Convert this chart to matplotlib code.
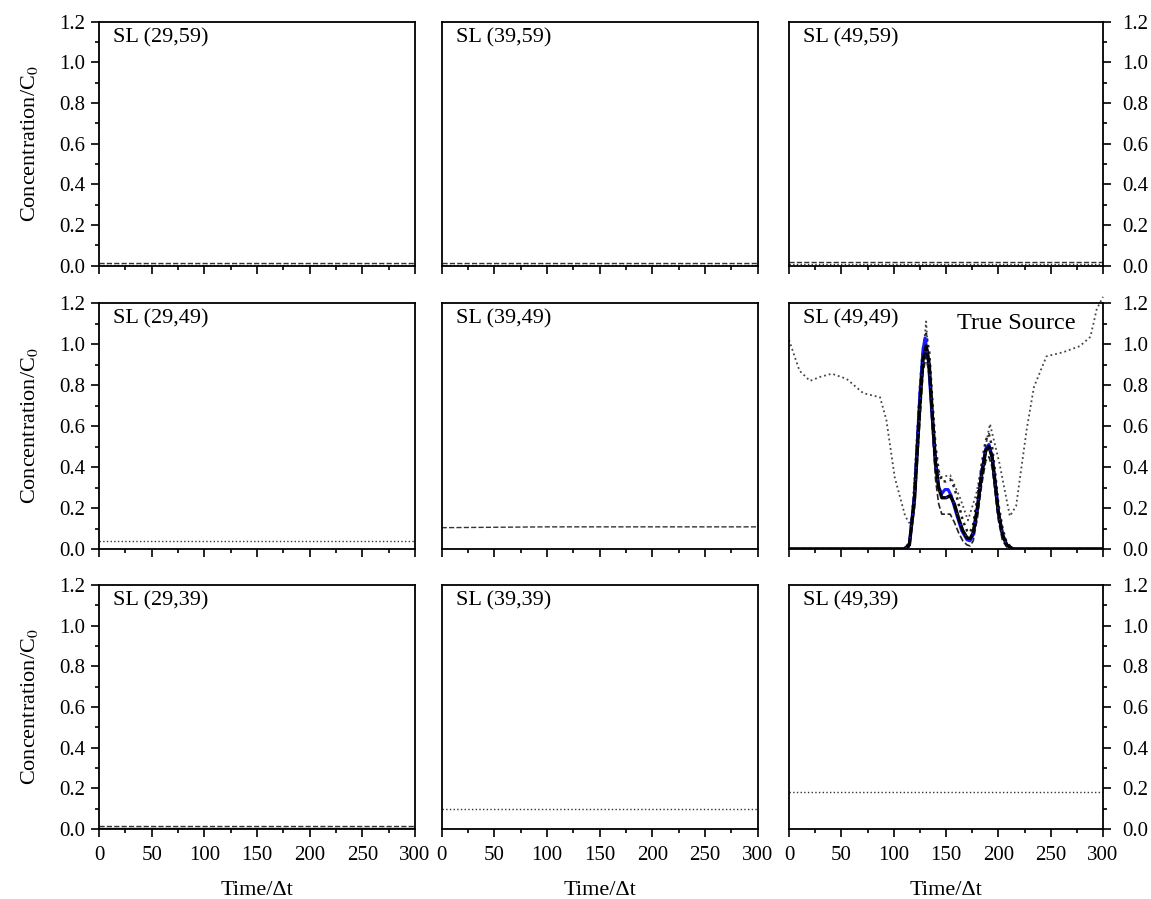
import numpy as np
import matplotlib.pyplot as plt
from matplotlib.ticker import MultipleLocator

plt.rcParams['font.family'] = ['Liberation Serif', 'DejaVu Serif']
plt.rcParams['mathtext.fontset'] = 'stix'

# panel titles, row by row (top to bottom), column by column (left to right)
titles = [["SL (29,59)", "SL (39,59)", "SL (49,59)"],
          ["SL (29,49)", "SL (39,49)", "SL (49,49)"],
          ["SL (29,39)", "SL (39,39)", "SL (49,39)"]]

# flat estimates in the panels far from the source: (values, style)
flat_t = [0, 100, 200, 300]
flat_lines = {
    (0, 0): [([0.012, 0.012, 0.012, 0.012], "--"), ([0.004, 0.004, 0.004, 0.004], ":")],
    (0, 1): [([0.012, 0.012, 0.012, 0.012], "--"), ([0.004, 0.004, 0.004, 0.004], ":")],
    (0, 2): [([0.02, 0.02, 0.02, 0.02], "--"), ([0.006, 0.006, 0.006, 0.006], ":")],
    (1, 0): [([0.037, 0.037, 0.037, 0.037], ":")],
    (1, 1): [([0.104, 0.108, 0.108, 0.108], "--")],
    (2, 0): [([0.015, 0.015, 0.015, 0.015], "--"), ([0.005, 0.005, 0.005, 0.005], "-")],
    (2, 1): [([0.10, 0.10, 0.10, 0.10], ":")],
    (2, 2): [([0.18, 0.18, 0.18, 0.18], ":")],
}

# true source panel (49,49)
t_true = [0, 110, 115, 120, 125, 128, 130, 133, 136, 140, 143, 146, 149, 152, 155,
          160, 165, 170, 173, 176, 180, 184, 188, 191, 194, 197, 200, 204, 208, 214, 300]
c_true = [0, 0, 0.02, 0.27, 0.75, 0.97, 1.03, 0.93, 0.70, 0.42, 0.30, 0.27, 0.29, 0.29, 0.26,
          0.17, 0.09, 0.045, 0.04, 0.07, 0.20, 0.37, 0.49, 0.51, 0.45, 0.32, 0.18, 0.07, 0.02, 0, 0]

t_est = [0, 110, 115, 120, 125, 128, 131, 134, 137, 140, 143, 146, 150, 154, 158,
         162, 166, 170, 173, 176, 180, 184, 188, 191, 194, 197, 200, 204, 208, 214, 300]
c_mean = [0, 0, 0.02, 0.25, 0.70, 0.92, 0.99, 0.90, 0.65, 0.42, 0.30, 0.25, 0.25, 0.26, 0.22,
          0.15, 0.09, 0.055, 0.05, 0.08, 0.20, 0.36, 0.48, 0.50, 0.45, 0.32, 0.18, 0.07, 0.02, 0, 0]
c_low = [0, 0, 0.01, 0.20, 0.62, 0.86, 0.94, 0.84, 0.58, 0.34, 0.22, 0.17, 0.17, 0.17, 0.13,
         0.08, 0.04, 0.02, 0.015, 0.04, 0.15, 0.31, 0.43, 0.45, 0.40, 0.27, 0.14, 0.04, 0.01, 0, 0]
c_high = [0, 0, 0.03, 0.30, 0.78, 0.98, 1.05, 0.96, 0.72, 0.50, 0.38, 0.33, 0.33, 0.34, 0.30,
          0.22, 0.14, 0.09, 0.08, 0.12, 0.25, 0.41, 0.53, 0.56, 0.50, 0.37, 0.22, 0.10, 0.03, 0, 0]

t_wide = [0, 10, 20, 30, 41, 55, 71, 87, 93, 101, 111, 117, 125, 131, 138, 144, 154,
          163, 171, 179, 192, 201, 211, 217, 227, 234, 246, 262, 278, 288, 294, 300]
c_wide = [1.02, 0.87, 0.82, 0.84, 0.855, 0.83, 0.76, 0.74, 0.63, 0.35, 0.16, 0.11, 0.78, 1.11,
          0.53, 0.35, 0.36, 0.255, 0.14, 0.27, 0.61, 0.42, 0.16, 0.21, 0.58, 0.79, 0.94, 0.96,
          0.99, 1.035, 1.17, 1.23]

xticks = [0, 50, 100, 150, 200, 250, 300]
yticks = [0.0, 0.2, 0.4, 0.6, 0.8, 1.0, 1.2]

W, H = 1151, 899
fig = plt.figure(figsize=(W / 100, H / 100), dpi=100)

col_px = [(99, 415), (441.7, 757.7), (789, 1103)]
row_px = [(21.7, 265.7), (303, 549), (585, 829)]

for r in range(3):
    for c in range(3):
        x0, x1 = col_px[c]
        y0, y1 = row_px[r]
        ax = fig.add_axes([x0 / W, 1 - y1 / H, (x1 - x0) / W, (y1 - y0) / H])
        ax.set_xlim(0, 300)
        ax.set_ylim(0, 1.2)
        ax.xaxis.set_major_locator(MultipleLocator(50))
        ax.xaxis.set_minor_locator(MultipleLocator(25))
        ax.yaxis.set_major_locator(MultipleLocator(0.2))
        ax.yaxis.set_minor_locator(MultipleLocator(0.1))
        for s in ax.spines.values():
            s.set_linewidth(1.3)
        ax.tick_params(which='both', direction='out', width=1.2, labelsize=15, top=False)
        ax.tick_params(which='major', length=6)
        ax.tick_params(which='minor', length=3)
        ax.tick_params(axis='x', labelbottom=(r == 2), pad=6)
        ax.tick_params(axis='y', pad=4)

        if c == 0:
            ax.tick_params(axis='y', left=True, right=False, labelleft=True)
            ax.set_yticks(yticks)
            ax.set_yticklabels([f"{v:.1f}" for v in yticks])
            ax.set_ylabel("Concentration/C$_0$", fontsize=16, labelpad=14)
        elif c == 1:
            ax.tick_params(axis='y', which='both', left=False, right=False, labelleft=False)
        else:
            ax.yaxis.tick_right()
            ax.tick_params(axis='y', which='both', left=False, right=True, labelright=True,
                           pad=8)
            ax.set_yticks(yticks)
            ax.set_yticklabels([f"{v:.1f}" for v in yticks])
        if r == 2:
            ax.set_xticks(xticks)
            ax.set_xlabel("Time/\u0394t", fontsize=16, labelpad=12)

        ax.text(0.045, 0.975, titles[r][c], transform=ax.transAxes, ha='left', va='top',
                fontsize=16)

        if (r, c) in flat_lines:
            for vals, ls in flat_lines[(r, c)]:
                ax.plot(flat_t, vals, color='#333333', ls=ls, lw=1.0)

        if (r, c) == (1, 2):
            ax.plot(t_wide, c_wide, color='#444444', ls=':', lw=1.3, clip_on=False)
            ax.plot(t_est, c_low, color='#222222', ls='--', lw=1.2)
            ax.plot(t_est, c_high, color='#222222', ls=':', lw=1.8)
            ax.plot(t_true, c_true, color='#1a1aff', lw=2.2)
            ax.plot(t_est, c_mean, color='black', lw=2.4)
            ax.plot(t_est, c_mean, color='#1a1aff', ls=(0, (1, 6)), lw=1.2)
            ax.text(0.535, 0.96, "True Source", transform=ax.transAxes, ha='left', va='top',
                    fontsize=17.5)

fig.savefig("out.png", dpi=100)
